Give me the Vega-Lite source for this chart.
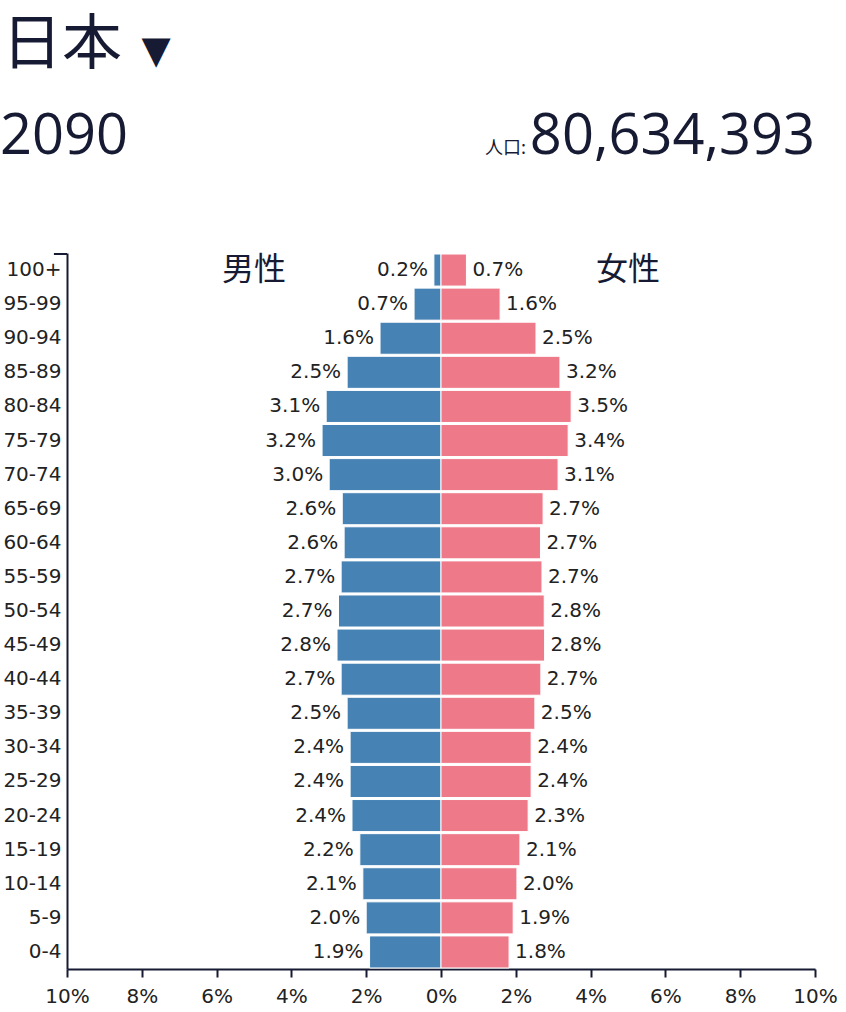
{
  "$schema": "https://vega.github.io/schema/vega-lite/v6.json",
  "padding": 0,
  "autosize": {"type": "pad"},
  "background": "white",
  "bounds": "flush",
  "spacing": 0,
  "config": {"view": {"stroke": null}, "font": "DejaVu Sans"},
  "vconcat": [
    {
      "width": 748,
      "height": 253,
      "data": {"values": [{"country": "日本", "year": 2090, "population": 80634393}]},
      "encoding": {
        "x": {"datum": -10, "type": "quantitative", "scale": {"domain": [-10, 10]}, "axis": null}
      },
      "layer": [
        {
          "mark": {"type": "text", "align": "left", "baseline": "top", "dx": -65, "dy": -110, "font": "Noto Sans CJK JP", "fontSize": 60, "color": "#161b33"},
          "encoding": {"text": {"field": "country", "type": "nominal"}}
        },
        {
          "mark": {"type": "text", "align": "center", "baseline": "middle", "dx": 89, "dy": -75, "font": "DejaVu Sans", "fontSize": 38, "color": "#161b33"},
          "encoding": {"text": {"value": "▼"}}
        },
        {
          "mark": {"type": "text", "align": "left", "baseline": "alphabetic", "dx": -67, "dy": 27, "font": "Open Sans", "fontSize": 56, "color": "#161b33"},
          "encoding": {"text": {"field": "year", "type": "nominal"}}
        },
        {
          "mark": {"type": "text", "align": "right", "baseline": "alphabetic", "dy": 27, "font": "Open Sans", "fontSize": 56, "color": "#161b33"},
          "encoding": {
            "x": {"datum": 10, "type": "quantitative"},
            "text": {"field": "population", "type": "quantitative", "format": ","}
          }
        },
        {
          "mark": {"type": "text", "align": "right", "baseline": "alphabetic", "dx": -289, "dy": 27, "font": "Noto Sans CJK JP", "fontSize": 18, "color": "#161b33"},
          "encoding": {
            "x": {"datum": 10, "type": "quantitative"},
            "text": {"value": "人口:"}
          }
        }
      ]
    },
    {
      "width": 748,
      "height": 716,
      "data": {
        "values": [
          {"age": "100+", "sex": "男性", "pct": 0.19}, {"age": "100+", "sex": "女性", "pct": 0.68},
          {"age": "95-99", "sex": "男性", "pct": 0.72}, {"age": "95-99", "sex": "女性", "pct": 1.58},
          {"age": "90-94", "sex": "男性", "pct": 1.63}, {"age": "90-94", "sex": "女性", "pct": 2.54},
          {"age": "85-89", "sex": "男性", "pct": 2.51}, {"age": "85-89", "sex": "女性", "pct": 3.18},
          {"age": "80-84", "sex": "男性", "pct": 3.07}, {"age": "80-84", "sex": "女性", "pct": 3.48},
          {"age": "75-79", "sex": "男性", "pct": 3.18}, {"age": "75-79", "sex": "女性", "pct": 3.40},
          {"age": "70-74", "sex": "男性", "pct": 2.99}, {"age": "70-74", "sex": "女性", "pct": 3.13},
          {"age": "65-69", "sex": "男性", "pct": 2.64}, {"age": "65-69", "sex": "女性", "pct": 2.73},
          {"age": "60-64", "sex": "男性", "pct": 2.59}, {"age": "60-64", "sex": "女性", "pct": 2.66},
          {"age": "55-59", "sex": "男性", "pct": 2.67}, {"age": "55-59", "sex": "女性", "pct": 2.70},
          {"age": "50-54", "sex": "男性", "pct": 2.74}, {"age": "50-54", "sex": "女性", "pct": 2.76},
          {"age": "45-49", "sex": "男性", "pct": 2.78}, {"age": "45-49", "sex": "女性", "pct": 2.77},
          {"age": "40-44", "sex": "男性", "pct": 2.67}, {"age": "40-44", "sex": "女性", "pct": 2.67},
          {"age": "35-39", "sex": "男性", "pct": 2.51}, {"age": "35-39", "sex": "女性", "pct": 2.51},
          {"age": "30-34", "sex": "男性", "pct": 2.43}, {"age": "30-34", "sex": "女性", "pct": 2.41},
          {"age": "25-29", "sex": "男性", "pct": 2.43}, {"age": "25-29", "sex": "女性", "pct": 2.41},
          {"age": "20-24", "sex": "男性", "pct": 2.38}, {"age": "20-24", "sex": "女性", "pct": 2.33},
          {"age": "15-19", "sex": "男性", "pct": 2.17}, {"age": "15-19", "sex": "女性", "pct": 2.11},
          {"age": "10-14", "sex": "男性", "pct": 2.09}, {"age": "10-14", "sex": "女性", "pct": 2.03},
          {"age": "5-9", "sex": "男性", "pct": 2.00}, {"age": "5-9", "sex": "女性", "pct": 1.93},
          {"age": "0-4", "sex": "男性", "pct": 1.91}, {"age": "0-4", "sex": "女性", "pct": 1.82}
        ]
      },
      "encoding": {
        "y": {
          "field": "age",
          "type": "ordinal",
          "sort": ["100+", "95-99", "90-94", "85-89", "80-84", "75-79", "70-74", "65-69", "60-64", "55-59", "50-54", "45-49", "40-44", "35-39", "30-34", "25-29", "20-24", "15-19", "10-14", "5-9", "0-4"],
          "scale": {"paddingInner": 0.06, "paddingOuter": 0.03},
          "axis": {
            "title": null,
            "ticks": false,
            "domainColor": "#161b33",
            "domainWidth": 2,
            "labelFont": "DejaVu Sans",
            "labelFontSize": 20,
            "labelColor": "#222222",
            "labelPadding": 6
          }
        }
      },
      "layer": [
        {
          "transform": [
            {"calculate": "datum.sex === '男性' ? -datum.pct : datum.pct", "as": "x"}
          ],
          "mark": {"type": "bar", "stroke": "white", "strokeWidth": 1},
          "encoding": {
            "x": {
              "field": "x",
              "type": "quantitative",
              "scale": {"domain": [-10, 10]},
              "axis": {
                "title": null,
                "grid": false,
                "values": [-10, -8, -6, -4, -2, 0, 2, 4, 6, 8, 10],
                "labelExpr": "abs(datum.value) + '%'",
                "labelFlush": false,
                "tickSize": 8,
                "tickWidth": 2,
                "tickColor": "#161b33",
                "domainColor": "#161b33",
                "domainWidth": 2,
                "labelFont": "DejaVu Sans",
                "labelFontSize": 20,
                "labelColor": "#222222",
                "labelPadding": 9
              }
            },
            "color": {
              "field": "sex",
              "type": "nominal",
              "scale": {"domain": ["男性", "女性"], "range": ["#4682b4", "#ee7989"]},
              "legend": null
            }
          }
        },
        {
          "transform": [
            {"filter": "datum.sex === '男性'"},
            {"calculate": "-datum.pct", "as": "x"},
            {"calculate": "format(datum.pct, '.1f') + '%'", "as": "label"}
          ],
          "mark": {"type": "text", "align": "right", "baseline": "middle", "dx": -6, "fontSize": 20, "font": "DejaVu Sans", "color": "#222222"},
          "encoding": {
            "x": {"field": "x", "type": "quantitative"},
            "text": {"field": "label", "type": "nominal"}
          }
        },
        {
          "transform": [
            {"filter": "datum.sex === '女性'"},
            {"calculate": "format(datum.pct, '.1f') + '%'", "as": "label"}
          ],
          "mark": {"type": "text", "align": "left", "baseline": "middle", "dx": 6, "fontSize": 20, "font": "DejaVu Sans", "color": "#222222"},
          "encoding": {
            "x": {"field": "pct", "type": "quantitative"},
            "text": {"field": "label", "type": "nominal"}
          }
        },
        {
          "data": {"values": [{"sex": "男性"}]},
          "mark": {"type": "text", "align": "center", "baseline": "middle", "font": "Noto Sans CJK JP", "fontSize": 32, "color": "#161b33"},
          "encoding": {
            "x": {"datum": -5, "type": "quantitative"},
            "y": {"datum": "100+"},
            "text": {"field": "sex", "type": "nominal"}
          }
        },
        {
          "data": {"values": [{"sex": "女性"}]},
          "mark": {"type": "text", "align": "center", "baseline": "middle", "font": "Noto Sans CJK JP", "fontSize": 32, "color": "#161b33"},
          "encoding": {
            "x": {"datum": 5, "type": "quantitative"},
            "y": {"datum": "100+"},
            "text": {"field": "sex", "type": "nominal"}
          }
        },
        {
          "data": {"values": [{}]},
          "mark": {"type": "rule", "color": "#161b33", "strokeWidth": 2},
          "encoding": {
            "x": {"datum": -10.35, "type": "quantitative"},
            "x2": {"datum": -10},
            "y": {"datum": "100+", "bandPosition": 0}
          }
        }
      ]
    }
  ]
}
